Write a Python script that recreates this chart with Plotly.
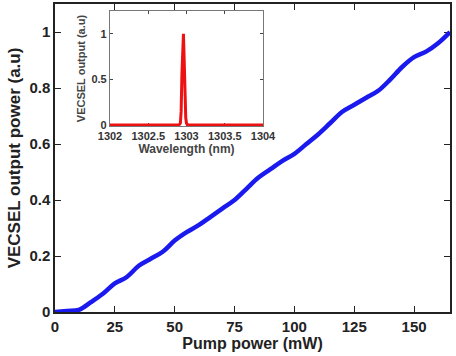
import plotly.graph_objects as go

pump_mw = [0, 5, 10, 15, 20, 25, 30, 35, 40, 45, 50, 55, 60, 65, 70, 75, 80, 85, 90,
           95, 100, 105, 110, 115, 120, 125, 130, 135, 140, 145, 150, 155, 160, 165]
output_au = [0, 0.004, 0.008, 0.035, 0.065, 0.102, 0.125, 0.165, 0.19, 0.215, 0.255,
             0.285, 0.31, 0.34, 0.37, 0.40, 0.44, 0.48, 0.51, 0.54, 0.565, 0.60, 0.635,
             0.675, 0.715, 0.74, 0.765, 0.79, 0.83, 0.875, 0.91, 0.93, 0.96, 1.0]

wavelength_nm = [1302, 1302.9, 1302.92, 1302.93, 1302.94, 1302.95, 1302.96, 1302.97,
                 1302.98, 1302.99, 1303.0, 1303.02, 1304]
spectrum_au = [0, 0, 0.02, 0.15, 0.55, 0.97, 1.0, 0.7, 0.3, 0.08, 0.02, 0, 0]

main_xticks = [0, 25, 50, 75, 100, 125, 150]
main_yticks = [0, 0.2, 0.4, 0.6, 0.8, 1]
inset_xticks = [1302, 1302.5, 1303, 1303.5, 1304]
inset_yticks = [0, 0.5, 1]

FONT = "Liberation Sans, Arial, sans-serif"

fig = go.Figure()
fig.add_trace(go.Scatter(x=pump_mw, y=output_au, mode="lines",
                         line=dict(color="#1a1aee", width=4.5, shape="spline"),
                         xaxis="x", yaxis="y", showlegend=False))
fig.add_trace(go.Scatter(x=wavelength_nm, y=spectrum_au, mode="lines",
                         line=dict(color="#ee1111", width=3),
                         xaxis="x2", yaxis="y2", showlegend=False))

fig.update_layout(
    width=456, height=356,
    margin=dict(l=0, r=0, t=0, b=0),
    paper_bgcolor="white", plot_bgcolor="white",
    font=dict(family=FONT, color="#222"),
    xaxis=dict(domain=[55 / 456, 450 / 456], range=[0, 165], automargin=False,
               tickvals=main_xticks, ticks="inside", ticklen=6, mirror="ticks",
               showline=True, linecolor="#222", linewidth=1.5, showgrid=False,
               zeroline=False, tickcolor="#222", layer="below traces",
               tickfont=dict(size=15, weight="bold", color="#222"),
               title=dict(text="Pump power (mW)", standoff=2,
                          font=dict(size=16, weight="bold", color="#222"))),
    yaxis=dict(domain=[1 - 312 / 356, 1 - 4 / 356], range=[0, 1.1], automargin=False,
               tickvals=main_yticks, ticktext=["0", "0.2", "0.4", "0.6", "0.8", "1"],
               ticks="inside", ticklen=6, mirror="ticks",
               showline=True, linecolor="#222", linewidth=1.5, showgrid=False,
               zeroline=False, tickcolor="#222", layer="below traces",
               tickfont=dict(size=15, weight="bold", color="#222"),
               title=dict(text="VECSEL output power (a.u)", standoff=4,
                          font=dict(size=17, weight="bold", color="#222"))),
    xaxis2=dict(domain=[110 / 456, 263 / 456], range=[1302, 1304], anchor="y2",
                automargin=False,
                tickvals=inset_xticks, ticktext=["1302", "1302.5", "1303", "1303.5", "1304"],
                ticks="inside", ticklen=3, mirror="ticks",
                showline=True, linecolor="#777", linewidth=1.2, showgrid=False,
                zeroline=False, tickcolor="#444", layer="below traces",
                tickfont=dict(size=11, weight="bold", color="#333"),
                title=dict(text="Wavelength (nm)", standoff=0,
                           font=dict(size=12, weight="bold", color="#444"))),
    yaxis2=dict(domain=[1 - 126 / 356, 1 - 11 / 356], range=[-0.01, 1.25], anchor="x2",
                automargin=False,
                tickvals=inset_yticks, ticktext=["0", "0.5", "1"],
                ticks="inside", ticklen=3, mirror="ticks",
                showline=True, linecolor="#777", linewidth=1.2, showgrid=False,
                zeroline=False, tickcolor="#444", layer="below traces",
                tickfont=dict(size=11, weight="bold", color="#333"),
                title=dict(text="VECSEL output (a.u)", standoff=3,
                           font=dict(size=11, weight="bold", color="#444"))),
)

fig.write_html("out.html")
